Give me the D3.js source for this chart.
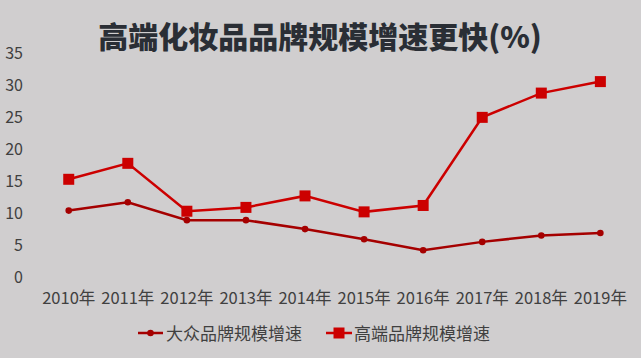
<!DOCTYPE html>
<html><head><meta charset="utf-8">
<script src="https://cdn.jsdelivr.net/npm/d3@7"></script>
<style>body{margin:0;background:#d0cecf;}svg{display:block;}</style>
</head><body>
<script>
const categories = ["2010年","2011年","2012年","2013年","2014年","2015年","2016年","2017年","2018年","2019年"];
const massGrowth = [10.4, 11.7, 8.9, 8.9, 7.5, 5.9, 4.2, 5.5, 6.5, 6.9];
const premiumGrowth = [15.3, 17.8, 10.3, 10.9, 12.7, 10.2, 11.2, 25.0, 28.8, 30.6];
const yTicks = [0,5,10,15,20,25,30,35];
const seriesNames = ["大众品牌规模增速","高端品牌规模增速"];
const titleText = "高端化妆品品牌规模增速更快(%)";

const W = 641, H = 358;
const svg = d3.select("body").append("svg").attr("width", W).attr("height", H);
svg.append("rect").attr("width", W).attr("height", H).attr("fill", "#d0cecf");

const font = "'Microsoft YaHei','Noto Sans CJK SC',sans-serif";
const x = d3.scaleBand().domain(categories).range([39.2, 629.9]);
const y = d3.scaleLinear().domain([0, 35]).range([277, 53.5]);

svg.append("text").attr("x", 320).attr("y", 48).attr("text-anchor", "middle")
  .attr("font-family", font).attr("font-weight", "900").attr("font-size", 30)
  .attr("fill", "#2a2e35").text(titleText);

const yAxis = svg.append("g").attr("transform", "translate(23,0)")
  .call(d3.axisLeft(y).tickValues(yTicks).tickSize(0).tickPadding(0));
yAxis.select(".domain").remove();
yAxis.selectAll("text").attr("font-family", font).attr("font-size", 16).attr("fill", "#404040");

const xAxis = svg.append("g").attr("transform", "translate(0,290)")
  .call(d3.axisBottom(x).tickSize(0).tickPadding(0));
xAxis.select(".domain").remove();
xAxis.selectAll("text").attr("font-family", font).attr("font-size", 16.5).attr("fill", "#404040").attr("dy", "0.85em");

const cx = d => x(d) + x.bandwidth() / 2;
const line = d3.line().x((d, i) => cx(categories[i])).y(d => y(d));

svg.append("path").datum(massGrowth).attr("d", line).attr("fill", "none")
  .attr("stroke", "#a50000").attr("stroke-width", 2.5);
svg.selectAll(".mdot").data(massGrowth).enter().append("circle")
  .attr("cx", (d, i) => cx(categories[i])).attr("cy", d => y(d)).attr("r", 3.3).attr("fill", "#a50000");

svg.append("path").datum(premiumGrowth).attr("d", line).attr("fill", "none")
  .attr("stroke", "#cc0000").attr("stroke-width", 2.5);
svg.selectAll(".pdot").data(premiumGrowth).enter().append("rect")
  .attr("x", (d, i) => cx(categories[i]) - 5.5).attr("y", d => y(d) - 5.5)
  .attr("width", 11).attr("height", 11).attr("fill", "#cc0000");

// legend
const lg = svg.append("g");
lg.append("line").attr("x1", 138).attr("x2", 163).attr("y1", 333).attr("y2", 333).attr("stroke", "#a50000").attr("stroke-width", 2.5);
lg.append("circle").attr("cx", 150.5).attr("cy", 333).attr("r", 3.3).attr("fill", "#a50000");
lg.append("text").attr("x", 166).attr("y", 339.5).attr("font-family", font).attr("font-size", 17).attr("fill", "#404040").text(seriesNames[0]);
lg.append("line").attr("x1", 326).attr("x2", 352).attr("y1", 333).attr("y2", 333).attr("stroke", "#cc0000").attr("stroke-width", 2.5);
lg.append("rect").attr("x", 333.5).attr("y", 327.5).attr("width", 11).attr("height", 11).attr("fill", "#cc0000");
lg.append("text").attr("x", 354).attr("y", 339.5).attr("font-family", font).attr("font-size", 17).attr("fill", "#404040").text(seriesNames[1]);
</script>
</body></html>
